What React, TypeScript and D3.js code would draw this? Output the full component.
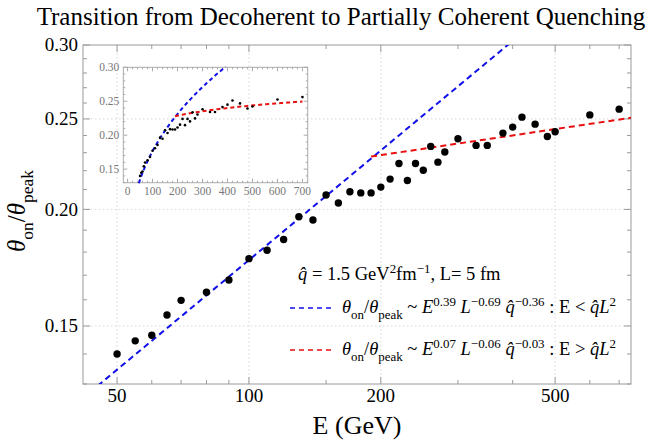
import React from "react";
import * as d3 from "d3";

// ---- data ----
const energies = [50, 55, 60, 65, 70, 80, 90, 100, 110, 120, 130, 140, 150, 160, 170, 180, 190, 200, 210, 220, 230, 240, 250, 260, 270, 280, 300, 330, 350, 380, 400, 420, 450, 480, 500, 600, 700];
const ratios = [0.140, 0.1446, 0.1466, 0.1541, 0.1598, 0.163, 0.168, 0.1771, 0.1808, 0.1857, 0.1964, 0.1948, 0.2072, 0.2032, 0.2089, 0.2083, 0.2083, 0.2113, 0.2155, 0.224, 0.2148, 0.224, 0.2203, 0.2336, 0.2247, 0.2304, 0.2381, 0.2342, 0.2342, 0.2414, 0.245, 0.2511, 0.2468, 0.2394, 0.2422, 0.2525, 0.2561];

const xTicks = [50, 100, 200, 500];
const xMinorTicks = [60, 70, 80, 90, 150, 300, 400, 600, 700];
const yTicks = [0.15, 0.2, 0.25, 0.3];
const yMinorTicks = [0.13, 0.14, 0.16, 0.17, 0.18, 0.19, 0.21, 0.22, 0.23, 0.24, 0.26, 0.27, 0.28, 0.29];
const insetXTicks = [0, 100, 200, 300, 400, 500, 600, 700];
const insetYTicks = [0.15, 0.2, 0.25, 0.3];

// fits: theta = coef * E^exp
const blueFit = { coef: 0.02929, exp: 0.39, from: 40, to: 420 };
const redFit = { coef: 0.1578, exp: 0.07, from: 190, to: 760 };
const insetBlueRange = [45, 392];
const insetRedRange = [190, 700];

const titleText = "Transition from Decoherent to Partially Coherent Quenching";

const FONT = "'Liberation Serif', 'Times New Roman', serif";

type Seg = { t: string; k?: "i" | "sub" | "sup" };

function Rich({ segs, x, y, size, anchor = "start", transform }: { segs: Seg[]; x: number; y: number; size: number; anchor?: string; transform?: string }) {
  let shift = 0;
  const small = size * 0.7;
  const out = segs.map((s, i) => {
    const target = s.k === "sub" ? size * 0.3 : s.k === "sup" ? -size * 0.4 : 0;
    const dy = target - shift;
    shift = target;
    return (
      <tspan key={i} dy={dy} fontStyle={s.k === "i" ? "italic" : undefined} fontSize={s.k === "sub" || s.k === "sup" ? small : size}>
        {s.t}
      </tspan>
    );
  });
  return (
    <text x={x} y={y} fontSize={size} textAnchor={anchor} transform={transform} fontFamily={FONT} style={{ whiteSpace: "pre" }} fill="#000">
      {out}
    </text>
  );
}

export default function App() {
  const W = 655, H = 441;
  const L = 83, R = 631, T = 45, B = 384;
  const x = d3.scaleLog().domain([41.8, 745]).range([L, R]);
  const y = d3.scaleLog().domain([0.13, 0.3]).range([B, T]);

  const ix = d3.scaleLinear().domain([-17, 721]).range([123.3, 307.7]);
  const iy = d3.scaleLinear().domain([0.13, 0.3]).range([182.7, 67.3]);

  const fit = (f: { coef: number; exp: number }) => (e: number) => f.coef * Math.pow(e, f.exp);
  const blue = fit(blueFit);
  const red = fit(redFit);

  const mainLine = d3.line<number>().x((e) => x(e)).y((e) => y(blue(e)));
  const mainRedLine = d3.line<number>().x((e) => x(e)).y((e) => y(red(e)));
  const blueMainPath = mainLine([blueFit.from, blueFit.to]) || "";
  const redMainPath = mainRedLine([redFit.from, redFit.to]) || "";

  const sample = (a: number, b: number) => d3.range(0, 61).map((i) => a + ((b - a) * i) / 60);
  const insetBlue = d3.line<number>().x((e) => ix(e)).y((e) => iy(blue(e)))(sample(insetBlueRange[0], insetBlueRange[1])) || "";
  const insetRed = d3.line<number>().x((e) => ix(e)).y((e) => iy(red(e)))(sample(insetRedRange[0], insetRedRange[1])) || "";

  const insetXMinor = d3.range(0, 721, 20).filter((v) => v % 100 !== 0);
  const insetYMinor = d3.range(0.13, 0.3001, 0.01).map((v) => +v.toFixed(2)).filter((v) => !insetYTicks.includes(v));

  const gridColor = "#d8d8d8";
  const frameColor = "#9a9a9a";

  return (
    <svg width={W} height={H} style={{ position: "absolute", left: 0, top: 0 }} fontFamily={FONT}>
      <defs>
        <clipPath id="plotClip">
          <rect x={L} y={T} width={R - L} height={B - T} />
        </clipPath>
      </defs>
      <rect x={0} y={0} width={W} height={H} fill="#fff" />
      {/* title */}
      <text x={341} y={25} textAnchor="middle" fontSize={25} fontFamily={FONT}>
        {titleText}
      </text>

      {/* grid */}
      {xTicks.map((t) => (
        <line key={"gx" + t} x1={x(t)} x2={x(t)} y1={T} y2={B} stroke={gridColor} strokeDasharray="1.5,2.5" />
      ))}
      {yTicks.filter((t) => t < 0.3).map((t) => (
        <line key={"gy" + t} x1={L} x2={R} y1={y(t)} y2={y(t)} stroke={gridColor} strokeDasharray="1.5,2.5" />
      ))}

      {/* frame */}
      <rect x={L} y={T} width={R - L} height={B - T} fill="none" stroke={frameColor} strokeWidth={1} />
      {xTicks.map((t) => (
        <g key={"xt" + t}>
          <line x1={x(t)} x2={x(t)} y1={B} y2={B - 7} stroke={frameColor} />
          <line x1={x(t)} x2={x(t)} y1={T} y2={T + 7} stroke={frameColor} />
          <text x={x(t)} y={B + 18} textAnchor="middle" fontSize={19}>
            {t}
          </text>
        </g>
      ))}
      {xMinorTicks.map((t) => (
        <g key={"xm" + t}>
          <line x1={x(t)} x2={x(t)} y1={B} y2={B - 4} stroke={frameColor} />
          <line x1={x(t)} x2={x(t)} y1={T} y2={T + 4} stroke={frameColor} />
        </g>
      ))}
      {yTicks.map((t) => (
        <g key={"yt" + t}>
          <line x1={L} x2={L + 7} y1={y(t)} y2={y(t)} stroke={frameColor} />
          <line x1={R} x2={R - 7} y1={y(t)} y2={y(t)} stroke={frameColor} />
          <text x={L - 5} y={y(t)} dy="0.33em" textAnchor="end" fontSize={19}>
            {t.toFixed(2)}
          </text>
        </g>
      ))}
      {yMinorTicks.map((t) => (
        <g key={"ym" + t}>
          <line x1={L} x2={L + 4} y1={y(t)} y2={y(t)} stroke={frameColor} />
          <line x1={R} x2={R - 4} y1={y(t)} y2={y(t)} stroke={frameColor} />
        </g>
      ))}

      {/* axis labels */}
      <text x={357} y={434} textAnchor="middle" fontSize={26}>
        E (GeV)
      </text>
      <Rich
        segs={[{ t: "θ", k: "i" }, { t: "on", k: "sub" }, { t: "/" }, { t: "θ", k: "i" }, { t: "peak", k: "sub" }]}
        x={0}
        y={0}
        size={25}
        anchor="middle"
        transform="translate(25,211) rotate(-90)"
      />

      {/* inset */}
      <g>
        <rect x={ix(-17)} y={iy(0.3)} width={ix(721) - ix(-17)} height={iy(0.13) - iy(0.3)} fill="none" stroke="#aaa" />
        {insetXTicks.map((t) => (
          <g key={"ixt" + t}>
            <line x1={ix(t)} x2={ix(t)} y1={iy(0.13)} y2={iy(0.13) - 4} stroke="#aaa" />
            <line x1={ix(t)} x2={ix(t)} y1={iy(0.3)} y2={iy(0.3) + 4} stroke="#aaa" />
            <text x={ix(t)} y={iy(0.13) + 12} textAnchor="middle" fontSize={11.5} fill="#777">
              {t}
            </text>
          </g>
        ))}
        {insetXMinor.map((t) => (
          <g key={"ixm" + t}>
            <line x1={ix(t)} x2={ix(t)} y1={iy(0.13)} y2={iy(0.13) - 2} stroke="#aaa" />
            <line x1={ix(t)} x2={ix(t)} y1={iy(0.3)} y2={iy(0.3) + 2} stroke="#aaa" />
          </g>
        ))}
        {insetYTicks.map((t) => (
          <g key={"iyt" + t}>
            <line x1={ix(-17)} x2={ix(-17) + 4} y1={iy(t)} y2={iy(t)} stroke="#aaa" />
            <line x1={ix(721)} x2={ix(721) - 4} y1={iy(t)} y2={iy(t)} stroke="#aaa" />
            <text x={ix(-17) - 4} y={iy(t)} dy="0.35em" textAnchor="end" fontSize={11.5} fill="#777">
              {t.toFixed(2)}
            </text>
          </g>
        ))}
        {insetYMinor.map((t) => (
          <g key={"iym" + t}>
            <line x1={ix(-17)} x2={ix(-17) + 2} y1={iy(t)} y2={iy(t)} stroke="#aaa" />
            <line x1={ix(721)} x2={ix(721) - 2} y1={iy(t)} y2={iy(t)} stroke="#aaa" />
          </g>
        ))}
        <path d={insetBlue} fill="none" stroke="#1010e8" strokeWidth={2} strokeDasharray="4,3" />
        <path d={insetRed} fill="none" stroke="#e81010" strokeWidth={2} strokeDasharray="4,3" />
        {energies.map((e, i) => (
          <circle key={"ip" + i} cx={ix(e)} cy={iy(ratios[i])} r={1.3} fill="#000" />
        ))}
      </g>

      {/* main fits */}
      <g clipPath="url(#plotClip)">
        <path d={blueMainPath} fill="none" stroke="#1010e8" strokeWidth={2} strokeDasharray="6,4" />
        <path d={redMainPath} fill="none" stroke="#e81010" strokeWidth={2} strokeDasharray="6,4" />
      </g>

      {/* main points */}
      {energies.map((e, i) => (
        <circle key={"p" + i} cx={x(e)} cy={y(ratios[i])} r={3.7} fill="#000" />
      ))}

      {/* legend */}
      <Rich
        segs={[{ t: "q\u0302", k: "i" }, { t: " = 1.5 GeV" }, { t: "2", k: "sup" }, { t: "fm" }, { t: "−1", k: "sup" }, { t: ", L= 5 fm" }]}
        x={298}
        y={280}
        size={18.5}
      />
      <line x1={290} x2={333} y1={308} y2={308} stroke="#1010e8" strokeWidth={1.5} strokeDasharray="5,4" />
      <Rich
        segs={[
          { t: "θ", k: "i" }, { t: "on", k: "sub" }, { t: "/" }, { t: "θ", k: "i" }, { t: "peak", k: "sub" }, { t: " ~ " },
          { t: "E", k: "i" }, { t: "0.39", k: "sup" }, { t: " " }, { t: "L", k: "i" }, { t: "−0.69", k: "sup" }, { t: " " },
          { t: "q\u0302", k: "i" }, { t: "−0.36", k: "sup" }, { t: " : E < " }, { t: "q\u0302L", k: "i" }, { t: "2", k: "sup" },
        ]}
        x={342}
        y={313}
        size={18.5}
      />
      <line x1={290} x2={333} y1={350} y2={350} stroke="#e81010" strokeWidth={1.5} strokeDasharray="5,4" />
      <Rich
        segs={[
          { t: "θ", k: "i" }, { t: "on", k: "sub" }, { t: "/" }, { t: "θ", k: "i" }, { t: "peak", k: "sub" }, { t: " ~ " },
          { t: "E", k: "i" }, { t: "0.07", k: "sup" }, { t: " " }, { t: "L", k: "i" }, { t: "−0.06", k: "sup" }, { t: " " },
          { t: "q\u0302", k: "i" }, { t: "−0.03", k: "sup" }, { t: " : E > " }, { t: "q\u0302L", k: "i" }, { t: "2", k: "sup" },
        ]}
        x={342}
        y={355}
        size={18.5}
      />
    </svg>
  );
}
